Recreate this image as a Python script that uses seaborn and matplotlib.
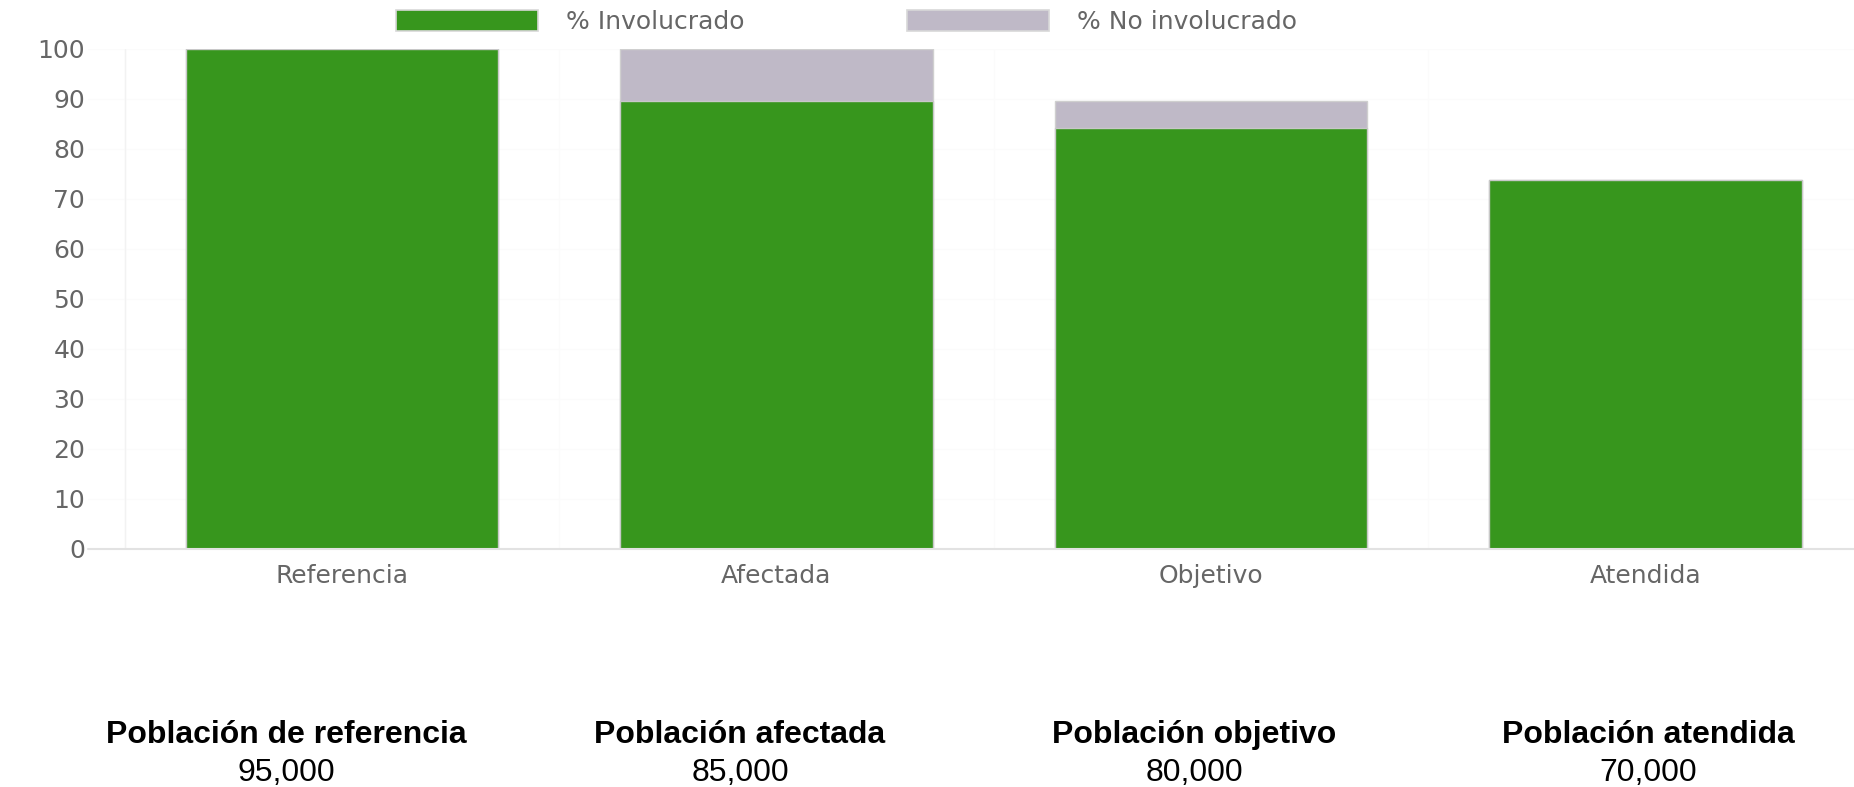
import matplotlib
matplotlib.use('Agg')
import matplotlib.pyplot as plt
from matplotlib.patches import Patch
import seaborn as sns
import pandas as pd

# Data
categories = ['Referencia', 'Afectada', 'Objetivo', 'Atendida']
pct_involved = [100, 89.5, 84.2, 73.7]
pct_not_involved = [0, 10.5, 5.3, 0]
legend_labels = ['% Involucrado', '% No involucrado']
pop_titles = ['Población de referencia', 'Población afectada',
              'Población objetivo', 'Población atendida']
pop_values = ['95,000', '85,000', '80,000', '70,000']

green = '#37961d'
gray = '#bfb9c7'
text_gray = '#666666'

sns.set_theme(style='white')
plt.rcParams['font.family'] = ['DejaVu Sans']

W, H = 1854, 787
fig = plt.figure(figsize=(W / 100, H / 100), dpi=100)

# axes: left at baseline start, bottom at y=0 line, top at y=100 line
ax = fig.add_axes([88 / W, (H - 549) / H, 1 - 88 / W, (549 - 48.5) / H])

df = pd.DataFrame({'cat': categories, 'inv': pct_involved, 'no': pct_not_involved})
df['total'] = df['inv'] + df['no']

# stacked bars: total (gray) behind, involved (green) on top
sns.barplot(data=df, x='cat', y='total', color=gray, saturation=1, width=0.72,
            edgecolor='#cfcfcf', linewidth=1, ax=ax, zorder=2)
sns.barplot(data=df, x='cat', y='inv', color=green, saturation=1, width=0.72,
            edgecolor='#c8c8c8', linewidth=1, ax=ax, zorder=3)

ax.set_xlim(-0.5846, 3.48)
ax.set_ylim(0, 100)
ax.set_yticks(range(0, 101, 10))
ax.set_xlabel('')
ax.set_ylabel('')
for s in ax.spines.values():
    s.set_visible(False)

ax.tick_params(axis='both', length=0, labelsize=18, labelcolor=text_gray)
ax.tick_params(axis='y', pad=2)
ax.tick_params(axis='x', pad=11)

# very faint grid
ax.set_xticks([-0.5, 0.5, 1.5, 2.5], minor=True)
ax.grid(True, which='minor', axis='x', color='#fbfbfb', lw=1, zorder=0)
ax.grid(True, which='major', axis='y', color='#fbfbfb', lw=1, zorder=0)
ax.grid(False, which='major', axis='x')
ax.axhline(0, color='#e2e2e2', lw=1.5, zorder=4, clip_on=False)
ax.axvline(-0.5, color='#f2f2f2', lw=1, zorder=1)

# legend at top
fs = 18
fpx = fs * 100 / 72
handles = [Patch(facecolor=green, edgecolor='#d8d8d8', lw=1.2),
           Patch(facecolor=gray, edgecolor='#d8d8d8', lw=1.2)]
w1 = 7.134 * fpx
fig.legend(handles, legend_labels, loc='center left',
           bbox_to_anchor=(396 / W, (H - 22) / H), ncol=2, frameon=False,
           fontsize=fs, labelcolor=text_gray, borderpad=0, borderaxespad=0,
           handlelength=142 / fpx, handleheight=22 / fpx,
           handletextpad=28 / fpx, columnspacing=(907 - 566 - w1) / fpx)

# population summary below the chart
for i, (t, v) in enumerate(zip(pop_titles, pop_values)):
    x = (286 + 454 * i) / W
    fig.text(x, (H - 743) / H, t, ha='center', va='baseline', fontsize=23,
             fontweight='bold', family='Liberation Sans', color='black')
    fig.text(x, (H - 781) / H, v, ha='center', va='baseline', fontsize=23,
             family='Liberation Sans', color='black')

fig.savefig('out.png', dpi=100)
